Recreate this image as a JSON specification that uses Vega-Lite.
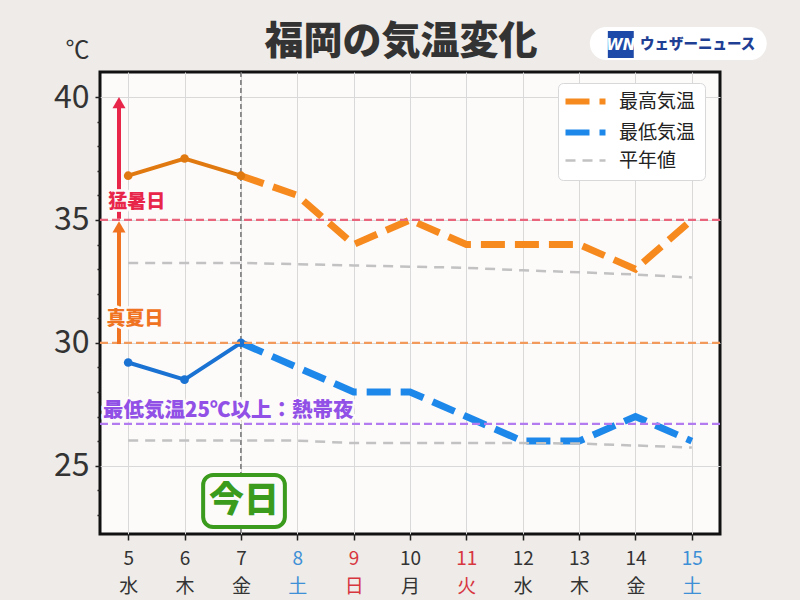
{
  "$schema": "https://vega.github.io/schema/vega-lite/v6.json",
  "width": 620,
  "height": 462,
  "autosize": {"type": "none"},
  "padding": {"left": 100, "top": 72, "right": 80, "bottom": 66},
  "background": "#eeebe8",
  "title": {"text": "福岡の気温変化", "fontSize": 39, "fontWeight": 900, "color": "#333333", "font": "Noto Sans CJK JP", "anchor": "middle", "offset": 6, "dx": -9, "dy": 41},
  "config": {
    "font": "Noto Sans CJK JP",
    "view": {"fill": "#fdfafa", "stroke": "#111111", "strokeWidth": 3},
    "axis": {"gridColor": "#d9d9d9", "gridWidth": 1, "domain": false, "tickColor": "#222222", "labelColor": "#333333", "labelFont": "Noto Sans CJK JP"}
  },
  "resolve": {"axis": {"y": "independent"}},
  "datasets": {
    "temps": [
      {"day": 5, "value": 36.8, "series": "最高気温", "line": "high", "part": "past"},
      {"day": 6, "value": 37.5, "series": "最高気温", "line": "high", "part": "past"},
      {"day": 7, "value": 36.8, "series": "最高気温", "line": "high", "part": "past"},
      {"day": 7, "value": 36.8, "series": "最高気温", "line": "high", "part": "fc"},
      {"day": 8, "value": 36, "series": "最高気温", "line": "high", "part": "fc"},
      {"day": 9, "value": 34, "series": "最高気温", "line": "high", "part": "fc"},
      {"day": 10, "value": 35, "series": "最高気温", "line": "high", "part": "fc"},
      {"day": 11, "value": 34, "series": "最高気温", "line": "high", "part": "fc"},
      {"day": 12, "value": 34, "series": "最高気温", "line": "high", "part": "fc"},
      {"day": 13, "value": 34, "series": "最高気温", "line": "high", "part": "fc"},
      {"day": 14, "value": 33, "series": "最高気温", "line": "high", "part": "fc"},
      {"day": 15, "value": 35, "series": "最高気温", "line": "high", "part": "fc"},
      {"day": 5, "value": 29.2, "series": "最低気温", "line": "low", "part": "past"},
      {"day": 6, "value": 28.5, "series": "最低気温", "line": "low", "part": "past"},
      {"day": 7, "value": 30, "series": "最低気温", "line": "low", "part": "past"},
      {"day": 7, "value": 30, "series": "最低気温", "line": "low", "part": "fc"},
      {"day": 8, "value": 29, "series": "最低気温", "line": "low", "part": "fc"},
      {"day": 9, "value": 28, "series": "最低気温", "line": "low", "part": "fc"},
      {"day": 10, "value": 28, "series": "最低気温", "line": "low", "part": "fc"},
      {"day": 11, "value": 27, "series": "最低気温", "line": "low", "part": "fc"},
      {"day": 12, "value": 26, "series": "最低気温", "line": "low", "part": "fc"},
      {"day": 13, "value": 26, "series": "最低気温", "line": "low", "part": "fc"},
      {"day": 14, "value": 27, "series": "最低気温", "line": "low", "part": "fc"},
      {"day": 15, "value": 26, "series": "最低気温", "line": "low", "part": "fc"},
      {"day": 5, "value": 33.25, "series": "平年値", "line": "norm_high", "part": "normal"},
      {"day": 6, "value": 33.25, "series": "平年値", "line": "norm_high", "part": "normal"},
      {"day": 7, "value": 33.25, "series": "平年値", "line": "norm_high", "part": "normal"},
      {"day": 8, "value": 33.2, "series": "平年値", "line": "norm_high", "part": "normal"},
      {"day": 9, "value": 33.15, "series": "平年値", "line": "norm_high", "part": "normal"},
      {"day": 10, "value": 33.1, "series": "平年値", "line": "norm_high", "part": "normal"},
      {"day": 11, "value": 33.05, "series": "平年値", "line": "norm_high", "part": "normal"},
      {"day": 12, "value": 32.95, "series": "平年値", "line": "norm_high", "part": "normal"},
      {"day": 13, "value": 32.87, "series": "平年値", "line": "norm_high", "part": "normal"},
      {"day": 14, "value": 32.78, "series": "平年値", "line": "norm_high", "part": "normal"},
      {"day": 15, "value": 32.66, "series": "平年値", "line": "norm_high", "part": "normal"},
      {"day": 5, "value": 26.02, "series": "平年値", "line": "norm_low", "part": "normal"},
      {"day": 6, "value": 26.02, "series": "平年値", "line": "norm_low", "part": "normal"},
      {"day": 7, "value": 26.02, "series": "平年値", "line": "norm_low", "part": "normal"},
      {"day": 8, "value": 26.02, "series": "平年値", "line": "norm_low", "part": "normal"},
      {"day": 9, "value": 25.92, "series": "平年値", "line": "norm_low", "part": "normal"},
      {"day": 10, "value": 25.92, "series": "平年値", "line": "norm_low", "part": "normal"},
      {"day": 11, "value": 25.92, "series": "平年値", "line": "norm_low", "part": "normal"},
      {"day": 12, "value": 25.92, "series": "平年値", "line": "norm_low", "part": "normal"},
      {"day": 13, "value": 25.9, "series": "平年値", "line": "norm_low", "part": "normal"},
      {"day": 14, "value": 25.82, "series": "平年値", "line": "norm_low", "part": "normal"},
      {"day": 15, "value": 25.74, "series": "平年値", "line": "norm_low", "part": "normal"}
    ]
  },
  "data": {"name": "temps"},
  "layer": [
    {
      "data": {"values": [{}]},
      "mark": {"type": "rule", "color": "#555555", "strokeDash": [5, 3], "strokeWidth": 1.2},
      "encoding": {"x": {"datum": 7, "type": "quantitative"}}
    },
    {
      "transform": [{"filter": "datum.part !== 'past'"}],
      "mark": {"type": "line", "strokeCap": "butt"},
      "encoding": {
        "x": {
          "field": "day", "type": "quantitative",
          "scale": {"domain": [4.5, 15.5], "nice": false, "zero": false},
          "axis": {
            "values": [5, 6, 7, 8, 9, 10, 11, 12, 13, 14, 15], "format": "d",
            "title": null, "grid": true, "tickSize": 6, "tickWidth": 1.5,
            "labelFontSize": 19, "labelPadding": 9, "labelLineHeight": 28,
            "labelOverlap": false, "labelFlush": false,
            "labelExpr": "[datum.label, ['水','木','金','土','日','月','火'][(datum.value - 5) % 7]]",
            "labelColor": {"condition": [
              {"test": "datum.value == 8 || datum.value == 15", "value": "#3d8fd6"},
              {"test": "datum.value == 9 || datum.value == 11", "value": "#d8363f"}
            ], "value": "#333333"}
          }
        },
        "y": {
          "field": "value", "type": "quantitative",
          "scale": {"domain": [22.22, 41.02], "nice": false, "zero": false},
          "axis": {
            "orient": "left", "values": [25, 30, 35, 40],
            "title": "℃", "titleAngle": 0, "titleX": -23, "titleY": -22,
            "titleAlign": "center", "titleBaseline": "middle", "titleFontSize": 24,
            "titleFontWeight": "normal", "titleColor": "#333333",
            "labelFontSize": 32, "labelPadding": 6, "tickSize": 5, "tickWidth": 1.5,
            "labelOverlap": false, "labelFlush": false, "grid": true
          }
        },
        "color": {
          "field": "series", "type": "nominal",
          "scale": {"domain": ["最高気温", "最低気温", "平年値"], "range": ["#f68a1e", "#1e88ea", "#c2c2c2"]},
          "legend": {
            "title": null, "orient": "none", "legendX": 458, "legendY": 11,
            "fillColor": "#ffffff", "strokeColor": "#d8d8d8", "cornerRadius": 5, "padding": 9,
            "symbolType": "stroke", "symbolSize": 1600, "labelFontSize": 19, "labelOffset": 24,
            "symbolOffset": 9, "rowPadding": 6, "labelColor": "#222222",
            "symbolStrokeWidth": {"expr": "datum.value === '平年値' ? 2.5 : 6"}
          }
        },
        "strokeDash": {
          "field": "series", "type": "nominal",
          "scale": {"domain": ["最高気温", "最低気温", "平年値"], "range": [[24, 10], [24, 10], [10, 7]]},
          "legend": {
            "title": null, "orient": "none", "legendX": 458, "legendY": 11,
            "fillColor": "#ffffff", "strokeColor": "#d8d8d8", "cornerRadius": 5, "padding": 9,
            "symbolType": "stroke", "symbolSize": 1600, "labelFontSize": 19, "labelOffset": 24,
            "symbolOffset": 9, "rowPadding": 6, "labelColor": "#222222",
            "symbolStrokeWidth": {"expr": "datum.value === '平年値' ? 2.5 : 6"}
          }
        },
        "strokeWidth": {"condition": {"test": "datum.series === '平年値'", "value": 2.5}, "value": 7},
        "detail": {"field": "line"}
      }
    },
    {
      "transform": [{"filter": "datum.part === 'past' && datum.line === 'high'"}],
      "mark": {"type": "line", "color": "#e07a10", "strokeWidth": 4, "point": {"filled": true, "size": 75, "color": "#e07a10"}},
      "encoding": {
        "x": {"field": "day", "type": "quantitative"},
        "y": {"field": "value", "type": "quantitative", "axis": {
          "orient": "left", "values": [23, 24, 26, 27, 28, 29, 31, 32, 33, 34, 36, 37, 38, 39],
          "labels": false, "grid": false, "title": null, "domain": false, "tickSize": 3, "tickWidth": 1.5
        }}
      }
    },
    {
      "transform": [{"filter": "datum.part === 'past' && datum.line === 'low'"}],
      "mark": {"type": "line", "color": "#1a72d2", "strokeWidth": 4, "point": {"filled": true, "size": 75, "color": "#1a72d2"}},
      "encoding": {"x": {"field": "day", "type": "quantitative"}, "y": {"field": "value", "type": "quantitative", "axis": null}}
    },
    {
      "data": {"values": [{}]},
      "mark": {"type": "rule", "color": "#e8657c", "strokeDash": [8, 4], "strokeWidth": 2.2},
      "encoding": {"y": {"datum": 35, "type": "quantitative", "axis": null}}
    },
    {
      "data": {"values": [{}]},
      "mark": {"type": "rule", "color": "#f29a5c", "strokeDash": [8, 4], "strokeWidth": 2.2},
      "encoding": {"y": {"datum": 30, "type": "quantitative", "axis": null}}
    },
    {
      "data": {"values": [{}]},
      "mark": {"type": "rule", "color": "#b27cf0", "strokeDash": [8, 4], "strokeWidth": 2.2},
      "encoding": {"y": {"datum": 26.7, "type": "quantitative", "axis": null}}
    },
    {
      "data": {"values": [{}]},
      "mark": {"type": "rule", "color": "#e8264a", "strokeWidth": 4},
      "encoding": {"x": {"datum": 4.837, "type": "quantitative"}, "y": {"datum": 35.05, "type": "quantitative", "axis": null}, "y2": {"datum": 39.6}}
    },
    {
      "data": {"values": [{}]},
      "mark": {"type": "point", "shape": "triangle-up", "filled": true, "size": 170, "color": "#e8264a", "opacity": 1},
      "encoding": {"x": {"datum": 4.837, "type": "quantitative"}, "y": {"datum": 39.77, "type": "quantitative", "axis": null}}
    },
    {
      "data": {"values": [{}]},
      "mark": {"type": "rule", "color": "#f07322", "strokeWidth": 4},
      "encoding": {"x": {"datum": 4.837, "type": "quantitative"}, "y": {"datum": 29.95, "type": "quantitative", "axis": null}, "y2": {"datum": 34.6}}
    },
    {
      "data": {"values": [{}]},
      "mark": {"type": "point", "shape": "triangle-up", "filled": true, "size": 170, "color": "#f07322", "opacity": 1},
      "encoding": {"x": {"datum": 4.837, "type": "quantitative"}, "y": {"datum": 34.72, "type": "quantitative", "axis": null}}
    },
    {
      "data": {"values": [{}]},
      "mark": {"type": "text", "text": "猛暑日", "fontSize": 19, "fontWeight": 900, "color": "#fdfafa", "stroke": "#fdfafa", "strokeWidth": 5, "strokeJoin": "round"},
      "encoding": {"x": {"datum": 5.15, "type": "quantitative"}, "y": {"datum": 35.72, "type": "quantitative", "axis": null}}
    },
    {
      "data": {"values": [{}]},
      "mark": {"type": "text", "text": "猛暑日", "fontSize": 19, "fontWeight": 900, "color": "#e8264a"},
      "encoding": {"x": {"datum": 5.15, "type": "quantitative"}, "y": {"datum": 35.72, "type": "quantitative", "axis": null}}
    },
    {
      "data": {"values": [{}]},
      "mark": {"type": "text", "text": "真夏日", "fontSize": 19, "fontWeight": 900, "color": "#fdfafa", "stroke": "#fdfafa", "strokeWidth": 5, "strokeJoin": "round"},
      "encoding": {"x": {"datum": 5.12, "type": "quantitative"}, "y": {"datum": 30.95, "type": "quantitative", "axis": null}}
    },
    {
      "data": {"values": [{}]},
      "mark": {"type": "text", "text": "真夏日", "fontSize": 19, "fontWeight": 900, "color": "#f07322"},
      "encoding": {"x": {"datum": 5.12, "type": "quantitative"}, "y": {"datum": 30.95, "type": "quantitative", "axis": null}}
    },
    {
      "data": {"values": [{}]},
      "mark": {"type": "text", "text": "最低気温25℃以上：熱帯夜", "align": "left", "fontSize": 20.5, "fontWeight": 900, "color": "#fdfafa", "stroke": "#fdfafa", "strokeWidth": 5, "strokeJoin": "round"},
      "encoding": {"x": {"datum": 4.553, "type": "quantitative"}, "y": {"datum": 27.22, "type": "quantitative", "axis": null}}
    },
    {
      "data": {"values": [{}]},
      "mark": {"type": "text", "text": "最低気温25℃以上：熱帯夜", "align": "left", "fontSize": 20.5, "fontWeight": 900, "color": "#9150e6"},
      "encoding": {"x": {"datum": 4.553, "type": "quantitative"}, "y": {"datum": 27.22, "type": "quantitative", "axis": null}}
    },
    {
      "data": {"values": [{}]},
      "mark": {"type": "rect", "fill": "#fdfafa", "stroke": "#3a9b1c", "strokeWidth": 4, "cornerRadius": 10},
      "encoding": {"x": {"datum": 6.33, "type": "quantitative"}, "x2": {"datum": 7.78}, "y": {"datum": 24.62, "type": "quantitative", "axis": null}, "y2": {"datum": 22.5}}
    },
    {
      "data": {"values": [{}]},
      "mark": {"type": "text", "text": "今日", "fontSize": 35, "fontWeight": 900, "color": "#3a9b1c"},
      "encoding": {"x": {"datum": 7.055, "type": "quantitative"}, "y": {"datum": 23.56, "type": "quantitative", "axis": null}}
    },
    {
      "data": {"values": [{}]},
      "mark": {"type": "rect", "fill": "#ffffff", "cornerRadius": 17},
      "encoding": {"x": {"datum": 13.19, "type": "quantitative"}, "x2": {"datum": 16.33}, "y": {"datum": 42.85, "type": "quantitative", "axis": null}, "y2": {"datum": 41.51}}
    },
    {
      "data": {"values": [{}]},
      "mark": {"type": "rect", "fill": "#1d4aa8"},
      "encoding": {"x": {"datum": 13.51, "type": "quantitative"}, "x2": {"datum": 13.97}, "y": {"datum": 42.69, "type": "quantitative", "axis": null}, "y2": {"datum": 41.59}}
    },
    {
      "data": {"values": [{}]},
      "mark": {"type": "text", "text": "WN", "fontSize": 15, "fontWeight": 900, "fontStyle": "italic", "font": "DejaVu Sans", "color": "#ffffff"},
      "encoding": {"x": {"datum": 13.74, "type": "quantitative"}, "y": {"datum": 42.12, "type": "quantitative", "axis": null}}
    },
    {
      "data": {"values": [{}]},
      "mark": {"type": "text", "text": "ウェザーニュース", "align": "left", "fontSize": 14.5, "fontWeight": 900, "color": "#1f3f94"},
      "encoding": {"x": {"datum": 14.08, "type": "quantitative"}, "y": {"datum": 42.12, "type": "quantitative", "axis": null}}
    }
  ]
}
